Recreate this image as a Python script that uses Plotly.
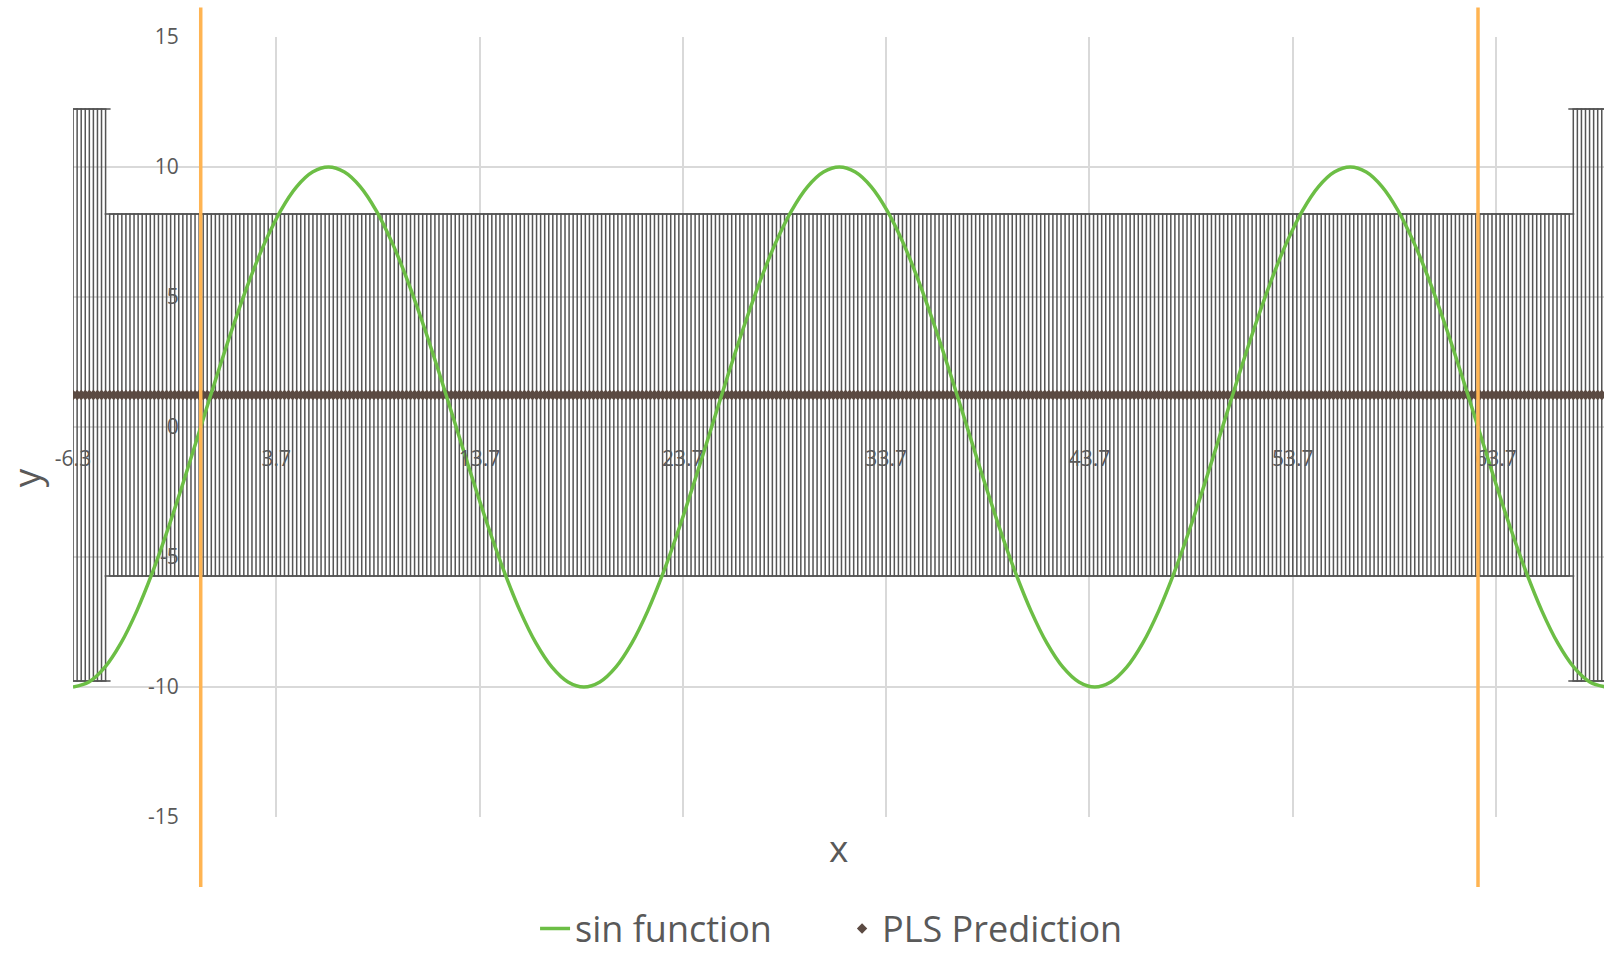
import plotly.graph_objects as go

# ---------------- data ----------------
X_MIN, X_MAX = -6.2832, 69.03
Y_MIN, Y_MAX = -15, 15

x_tick_vals = [-6.2832, 3.7168, 13.7168, 23.7168, 33.7168, 43.7168, 53.7168, 63.7168]
x_tick_text = ["-6.3", "3.7", "13.7", "23.7", "33.7", "43.7", "53.7", "63.7"]
y_tick_vals = [-15, -10, -5, 0, 5, 10, 15]
y_tick_text = ["-15", "-10", "-5", "0", "5", "10", "15"]

# sin function (green curve), read at its characteristic points
sin_x = [-6.283, -5.498, -4.712, -3.927, -3.142, -2.356, -1.571, -0.785,
         0.0, 0.785, 1.571, 2.356, 3.142, 3.927, 4.712, 5.498,
         6.283, 7.069, 7.854, 8.639, 9.425, 10.210, 10.996, 11.781,
         12.566, 13.352, 14.137, 14.923, 15.708, 16.493, 17.279, 18.064,
         18.850, 19.635, 20.420, 21.206, 21.991, 22.777, 23.562, 24.347,
         25.133, 25.918, 26.704, 27.489, 28.274, 29.060, 29.845, 30.631,
         31.416, 32.201, 32.987, 33.772, 34.558, 35.343, 36.128, 36.914,
         37.699, 38.485, 39.270, 40.055, 40.841, 41.626, 42.412, 43.197,
         43.982, 44.768, 45.553, 46.338, 47.124, 47.909, 48.695, 49.480,
         50.265, 51.051, 51.836, 52.622, 53.407, 54.192, 54.978, 55.763,
         56.549, 57.334, 58.119, 58.905, 59.690, 60.476, 61.261, 62.046,
         62.832, 63.617, 64.403, 65.188, 65.973, 66.759, 67.544, 68.330,
         69.115]
sin_y = [-10, -9.808, -9.239, -8.315, -7.071, -5.556, -3.827, -1.951,
         0, 1.951, 3.827, 5.556, 7.071, 8.315, 9.239, 9.808,
         10, 9.808, 9.239, 8.315, 7.071, 5.556, 3.827, 1.951,
         0, -1.951, -3.827, -5.556, -7.071, -8.315, -9.239, -9.808,
         -10, -9.808, -9.239, -8.315, -7.071, -5.556, -3.827, -1.951,
         0, 1.951, 3.827, 5.556, 7.071, 8.315, 9.239, 9.808,
         10, 9.808, 9.239, 8.315, 7.071, 5.556, 3.827, 1.951,
         0, -1.951, -3.827, -5.556, -7.071, -8.315, -9.239, -9.808,
         -10, -9.808, -9.239, -8.315, -7.071, -5.556, -3.827, -1.951,
         0, 1.951, 3.827, 5.556, 7.071, 8.315, 9.239, 9.808,
         10, 9.808, 9.239, 8.315, 7.071, 5.556, 3.827, 1.951,
         0, -1.951, -3.827, -5.556, -7.071, -8.315, -9.239, -9.808,
         -10]

# PLS prediction sample positions
pls_x = [
    -6.28, -6.08, -5.88, -5.68, -5.48, -5.28, -5.08, -4.88, -4.68, -4.48,
    -4.28, -4.08, -3.88, -3.68, -3.48, -3.28, -3.08, -2.88, -2.68, -2.48,
    -2.28, -2.08, -1.88, -1.68, -1.48, -1.28, -1.08, -0.88, -0.68, -0.48,
    -0.28, -0.08,
    0.12, 0.32, 0.52, 0.72, 0.92, 1.12, 1.32, 1.52, 1.72, 1.92,
    2.12, 2.32, 2.52, 2.72, 2.92, 3.12, 3.32, 3.52, 3.72, 3.92,
    4.12, 4.32, 4.52, 4.72, 4.92, 5.12, 5.32, 5.52, 5.72, 5.92,
    6.12, 6.32, 6.52, 6.72, 6.92, 7.12, 7.32, 7.52, 7.72, 7.92,
    8.12, 8.32, 8.52, 8.72, 8.92, 9.12, 9.32, 9.52, 9.72, 9.92,
    10.12, 10.32, 10.52, 10.72, 10.92, 11.12, 11.32, 11.52, 11.72, 11.92,
    12.12, 12.32, 12.52, 12.72, 12.92, 13.12, 13.32, 13.52, 13.72, 13.92,
    14.12, 14.32, 14.52, 14.72, 14.92, 15.12, 15.32, 15.52, 15.72, 15.92,
    16.12, 16.32, 16.52, 16.72, 16.92, 17.12, 17.32, 17.52, 17.72, 17.92,
    18.12, 18.32, 18.52, 18.72, 18.92, 19.12, 19.32, 19.52, 19.72, 19.92,
    20.12, 20.32, 20.52, 20.72, 20.92, 21.12, 21.32, 21.52, 21.72, 21.92,
    22.12, 22.32, 22.52, 22.72, 22.92, 23.12, 23.32, 23.52, 23.72, 23.92,
    24.12, 24.32, 24.52, 24.72, 24.92, 25.12, 25.32, 25.52, 25.72, 25.92,
    26.12, 26.32, 26.52, 26.72, 26.92, 27.12, 27.32, 27.52, 27.72, 27.92,
    28.12, 28.32, 28.52, 28.72, 28.92, 29.12, 29.32, 29.52, 29.72, 29.92,
    30.12, 30.32, 30.52, 30.72, 30.92, 31.12, 31.32, 31.52, 31.72, 31.92,
    32.12, 32.32, 32.52, 32.72, 32.92, 33.12, 33.32, 33.52, 33.72, 33.92,
    34.12, 34.32, 34.52, 34.72, 34.92, 35.12, 35.32, 35.52, 35.72, 35.92,
    36.12, 36.32, 36.52, 36.72, 36.92, 37.12, 37.32, 37.52, 37.72, 37.92,
    38.12, 38.32, 38.52, 38.72, 38.92, 39.12, 39.32, 39.52, 39.72, 39.92,
    40.12, 40.32, 40.52, 40.72, 40.92, 41.12, 41.32, 41.52, 41.72, 41.92,
    42.12, 42.32, 42.52, 42.72, 42.92, 43.12, 43.32, 43.52, 43.72, 43.92,
    44.12, 44.32, 44.52, 44.72, 44.92, 45.12, 45.32, 45.52, 45.72, 45.92,
    46.12, 46.32, 46.52, 46.72, 46.92, 47.12, 47.32, 47.52, 47.72, 47.92,
    48.12, 48.32, 48.52, 48.72, 48.92, 49.12, 49.32, 49.52, 49.72, 49.92,
    50.12, 50.32, 50.52, 50.72, 50.92, 51.12, 51.32, 51.52, 51.72, 51.92,
    52.12, 52.32, 52.52, 52.72, 52.92, 53.12, 53.32, 53.52, 53.72, 53.92,
    54.12, 54.32, 54.52, 54.72, 54.92, 55.12, 55.32, 55.52, 55.72, 55.92,
    56.12, 56.32, 56.52, 56.72, 56.92, 57.12, 57.32, 57.52, 57.72, 57.92,
    58.12, 58.32, 58.52, 58.72, 58.92, 59.12, 59.32, 59.52, 59.72, 59.92,
    60.12, 60.32, 60.52, 60.72, 60.92, 61.12, 61.32, 61.52, 61.72, 61.92,
    62.12, 62.32, 62.52, 62.72, 62.92, 63.12, 63.32, 63.52, 63.72, 63.92,
    64.12, 64.32, 64.52, 64.72, 64.92, 65.12, 65.32, 65.52, 65.72, 65.92,
    66.12, 66.32, 66.52, 66.72, 66.92, 67.12, 67.32, 67.52, 67.72, 67.92,
    68.12, 68.32, 68.52, 68.72, 68.92, 69.12,
]
PLS_VALUE = 1.23            # constant prediction level
ERR_INSIDE = 6.96           # error half-width inside the range
ERR_OUTSIDE = 11.0          # error half-width at the two ends
N_OUTER = 9                 # points with the wide error at each end
pls_pred = [PLS_VALUE] * len(pls_x)
pls_err = [ERR_OUTSIDE] * N_OUTER + [ERR_INSIDE] * (len(pls_x) - 2 * N_OUTER) + [ERR_OUTSIDE] * N_OUTER

# training-range boundaries (orange vertical lines) and their vertical extent
train_bounds = [0.0, 62.832]
bound_y = [-17.69, 16.13]

# ---------------- styles ----------------
FONT = "Open Sans"
TXT = "#595959"
GRID = "#D9D9D9"

fig = go.Figure()

fig.add_trace(go.Scatter(
    x=pls_x, y=pls_pred, mode="markers", name="PLS Prediction",
    marker=dict(symbol="diamond", size=8, color="#5B4A42"),
    error_y=dict(type="data", array=pls_err, symmetric=True,
                 color="#555555", thickness=1.5, width=5),
    legendrank=2,
))
fig.add_trace(go.Scatter(
    x=sin_x, y=sin_y, mode="lines", name="sin function",
    line=dict(color="#6CBE45", width=3.5, shape="spline"),
    legendrank=1,
))

for xb in train_bounds:
    fig.add_shape(type="line", xref="x", yref="paper",
                  x0=xb, x1=xb,
                  y0=(bound_y[0] - Y_MIN) / (Y_MAX - Y_MIN),
                  y1=(bound_y[1] - Y_MIN) / (Y_MAX - Y_MIN),
                  line=dict(color="#FFB452", width=3.5), layer="above")

fig.add_annotation(text="x", xref="paper", yref="paper", x=0.5, y=-0.039,
                   showarrow=False, xanchor="center", yanchor="middle",
                   font=dict(family=FONT, size=37, color=TXT))
fig.add_annotation(text="y", xref="paper", yref="paper", x=-0.031, y=0.435,
                   showarrow=False, xanchor="center", yanchor="middle", textangle=-90,
                   font=dict(family=FONT, size=37, color=TXT))

fig.update_layout(
    width=1604, height=956,
    margin=dict(l=73, r=0, t=37, b=139, autoexpand=False),
    paper_bgcolor="white", plot_bgcolor="white",
    font=dict(family=FONT, color=TXT),
    showlegend=True,
    legend=dict(orientation="h", x=0.3018, xanchor="left", y=-0.143, yanchor="middle",
                entrywidth=262, entrywidthmode="pixels",
                font=dict(family=FONT, size=36, color=TXT),
                bgcolor="rgba(0,0,0,0)"),
    xaxis=dict(range=[X_MIN, X_MAX], tickvals=x_tick_vals, ticktext=x_tick_text,
               showgrid=True, gridcolor=GRID, gridwidth=1.8, zeroline=False,
               showline=False, ticks="", anchor="free", position=0.5,
               tickfont=dict(family=FONT, size=21, color=TXT), ticklabelstandoff=17),
    yaxis=dict(range=[Y_MIN, Y_MAX], tickvals=y_tick_vals, ticktext=y_tick_text,
               showgrid=True, gridcolor=GRID, gridwidth=1.8, zeroline=False,
               showline=False, ticks="", anchor="free",
               position=(0 - X_MIN) / (X_MAX - X_MIN),
               tickfont=dict(family=FONT, size=21, color=TXT), ticklabelstandoff=22),
)

fig.write_html("out.html")
